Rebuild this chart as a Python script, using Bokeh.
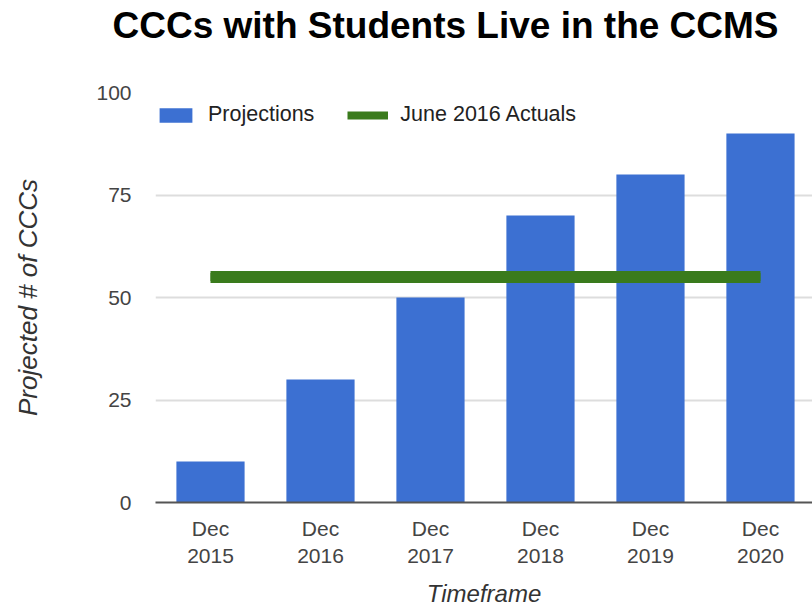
from bokeh.plotting import figure
from bokeh.models import Range1d, FixedTicker, Legend, LegendItem, Title
from bokeh.embed import file_html
from bokeh.resources import INLINE

# ---- data ----
categories = ["Dec 2015", "Dec 2016", "Dec 2017", "Dec 2018", "Dec 2019", "Dec 2020"]
tick_labels = ["Dec\n2015", "Dec\n2016", "Dec\n2017", "Dec\n2018", "Dec\n2019", "Dec\n2020"]
projections = [10, 30, 50, 70, 80, 90]
actual_value = 55
y_ticks = [0, 25, 50, 75, 100]

x_idx = list(range(len(categories)))
actual_x = [x_idx[0], x_idx[-1]]
actual_y = [actual_value, actual_value]

BLUE = "#3c70d2"
GREEN = "#3a7b1c"
FONT = "Liberation Sans"

p = figure(width=812, height=612, output_backend="svg", toolbar_location=None,
           x_range=Range1d(-0.5, 5.473), y_range=Range1d(0, 100),
           min_border_left=155, min_border_right=0, min_border_top=92, min_border_bottom=110)
p.outline_line_color = None
p.background_fill_color = "white"
p.border_fill_color = "white"

p.title.text = "CCCs with Students Live in the CCMS"
p.title.text_font = FONT
p.title.text_font_size = "37px"
p.title.text_font_style = "bold"
p.title.text_color = "#000000"
p.title.align = "left"
p.title.offset = -43
p.title.standoff = 0

# spacer between the title and the plot area
p.add_layout(Title(text=" ", text_font_size="1px", standoff=44), "above")

bars = p.vbar(x=x_idx, top=projections, width=0.62, bottom=0,
              fill_color=BLUE, line_color=None)
p.line(x=actual_x, y=actual_y, line_color=GREEN, line_width=12, line_cap="butt")
# thinner twin (hidden inside the thick line) used only for the legend swatch
legend_line = p.line(x=actual_x, y=actual_y, line_color=GREEN, line_width=8, line_cap="butt")

# axes
p.xaxis.ticker = FixedTicker(ticks=x_idx)
p.xaxis.major_label_overrides = {i: t for i, t in zip(x_idx, tick_labels)}
p.xaxis.axis_label = "Timeframe"
p.xaxis.axis_label_text_font = FONT
p.xaxis.axis_label_text_font_style = "italic"
p.xaxis.axis_label_text_font_size = "24px"
p.xaxis.axis_label_text_color = "#333333"
p.xaxis.axis_label_standoff = 10
p.xaxis.major_label_text_font = FONT
p.xaxis.major_label_text_font_size = "21px"
p.xaxis.major_label_text_color = "#444444"
p.xaxis.major_label_standoff = 8
p.xaxis.axis_line_color = "#555555"
p.xaxis.axis_line_width = 2
p.xaxis.major_tick_line_color = None
p.xaxis.minor_tick_line_color = None

p.yaxis.ticker = FixedTicker(ticks=y_ticks)
p.yaxis.axis_label = "Projected # of CCCs"
p.yaxis.axis_label_text_font = FONT
p.yaxis.axis_label_text_font_style = "italic"
p.yaxis.axis_label_text_font_size = "26px"
p.yaxis.axis_label_text_color = "#333333"
p.yaxis.axis_label_standoff = 50
p.yaxis.major_label_text_font = FONT
p.yaxis.major_label_text_font_size = "21px"
p.yaxis.major_label_text_color = "#444444"
p.yaxis.major_label_standoff = 18
p.yaxis.axis_line_color = None
p.yaxis.major_tick_line_color = None
p.yaxis.minor_tick_line_color = None

p.xgrid.grid_line_color = None
p.ygrid.grid_line_color = "#dddddd"
p.ygrid.grid_line_width = 2

legend = Legend(items=[LegendItem(label="Projections", renderers=[bars]),
                       LegendItem(label="June 2016 Actuals", renderers=[legend_line])],
                orientation="horizontal", location=(0, 375), margin=0, padding=0,
                glyph_width=41, glyph_height=18, label_height=18, label_standoff=12,
                spacing=33, background_fill_alpha=0, border_line_color=None,
                label_text_font=FONT, label_text_font_size="21.5px",
                label_text_color="#222222")
p.add_layout(legend)

open("out.html", "w").write(file_html(p, INLINE))
